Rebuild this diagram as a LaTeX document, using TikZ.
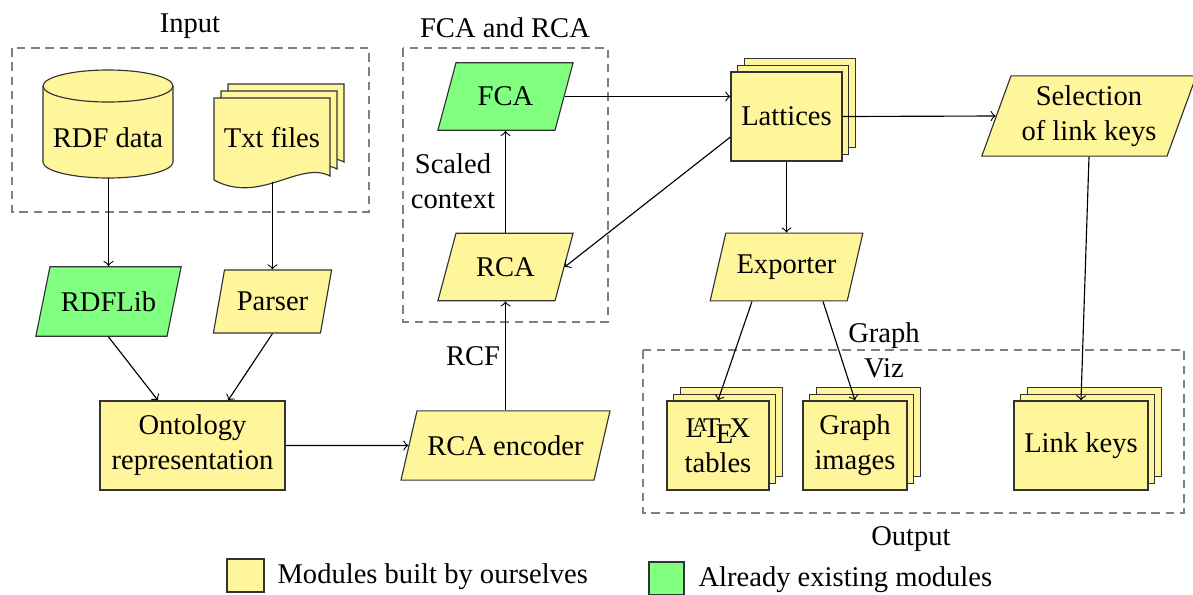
\documentclass[tikz,border=0pt]{standalone}
\usepackage{fontspec}
\setmainfont{Liberation Serif}
\usetikzlibrary{shapes.geometric,shadows}

\definecolor{ownyellow}{RGB}{255,245,155}
\definecolor{oldgreen}{RGB}{128,255,128}
\newdimen\upx \upx=0.35pt

\begin{document}
\fontsize{10pt}{12.3pt}\selectfont
\begin{tikzpicture}[x=0.35pt, y=-0.35pt, >=to, line width=0.4pt,
  box/.style={draw=gray, line width=0.6pt, dash pattern=on 3pt off 2pt},
  module/.style={draw=black!80, fill=ownyellow, align=center, inner sep=0pt},
  io/.style={module, trapezium, trapezium left angle=77, trapezium right angle=103},
  pages/.style={module, minimum height=89*\upx,
    copy shadow={shadow xshift=4.7pt, shadow yshift=4.7pt, fill=ownyellow, draw=black!80},
    copy shadow={shadow xshift=2.35pt, shadow yshift=2.35pt, fill=ownyellow, draw=black!80}}]

\useasboundingbox (0,0) rectangle (1193,594);

% Input
\draw[box] (12,48) rectangle (369,212);
\node[anchor=base] (inlabel) at (190,32) {Input};

\draw[draw=black!80, fill=ownyellow] (43,86) -- (43,162)
  arc[start angle=180, end angle=0, x radius=65, y radius=16] -- (173,86)
  arc[start angle=0, end angle=-180, x radius=65, y radius=16] -- cycle;
\draw[draw=black!80] (43,86) arc[start angle=180, end angle=0, x radius=65, y radius=16];
\node[anchor=base] (rdf) at (108,147) {RDF data};
\coordinate (rdfbot) at (108.5,178);

\foreach \d in {14,7,0}
  \draw[draw=black!80, fill=ownyellow] (214+\d,98-\d) -- (330+\d,98-\d) -- (330+\d,176-\d)
    .. controls (300+\d,160-\d) and (260+\d,205-\d) .. (214+\d,180-\d) -- cycle;
\node[anchor=base] (txt) at (272,147) {Txt files};
\coordinate (txtbot) at (272.5,182);

\node[io, fill=oldgreen, trapezium left angle=78.5, trapezium right angle=101.5,
  inner ysep=24.75*\upx] (rdflib) at (108.5,301.5) {\makebox[40.95pt]{RDFLib}};
\node[io, trapezium left angle=80, trapezium right angle=100,
  inner ysep=21.95*\upx] (parser) at (272.5,301.5) {\makebox[33.6pt]{Parser}};

\node[module, minimum width=185*\upx, minimum height=89*\upx] (onto) at (192.5,445.5) {Ontology\\representation};

\node[io, inner ysep=24.6*\upx] (enc) at (505.5,445.5) {\makebox[61.95pt]{RCA encoder}};
\node[anchor=base] (rcf) at (473,365) {RCF};

% FCA and RCA
\draw[box] (403,48) rectangle (608,322);
\node[anchor=base] (falabel) at (505,37) {FCA and RCA};
\node[io, fill=oldgreen, trapezium left angle=75, trapezium right angle=105,
  inner ysep=24.15*\upx] (fca) at (505.5,96.5) {\makebox[34.65pt]{FCA}};
\node[io, trapezium left angle=75, trapezium right angle=105,
  inner ysep=24.15*\upx] (rca) at (505.5,267) {\makebox[34.65pt]{RCA}};
\node[align=center] (scaled) at (453,181) {Scaled\\context};

\node[pages, minimum width=111*\upx] (lat) at (786.5,116.5) {Lattices};
\node[io, inner ysep=21.45*\upx] (exp) at (786.5,267) {\makebox[42.5pt]{Exporter}};
\node[io, trapezium left angle=70, trapezium right angle=110,
  inner ysep=9.6*\upx] (sel) at (1089,116) {\makebox[54.6pt]{Selection}\\of link keys};

% Output
\draw[box] (643,350) rectangle (1184,513);
\node[anchor=base] (outlabel) at (911,545) {Output};
\node[pages, minimum width=102*\upx] (tables) at (718,445.5) {\LaTeX\\tables};
\node[pages, minimum width=104*\upx] (images) at (855,445.5) {Graph\\images};
\node[pages, minimum width=134*\upx] (links) at (1081,445.5) {Link keys};
\node[align=center] (gviz) at (884,350) {Graph\\Viz};

% legend
\node[module, minimum width=37*\upx, minimum height=33*\upx] (ownkey) at (245.5,575.5) {};
\node[anchor=base west, inner sep=0pt] (owntext) at (277,583) {Modules built by ourselves};
\node[module, fill=oldgreen, minimum width=35*\upx, minimum height=33*\upx] (oldkey) at (666.5,578.5) {};
\node[anchor=base west, inner sep=0pt] (oldtext) at (698,586) {Already existing modules};

% arrows
\path (exp.center |- exp.south) coordinate (expbot);
\draw[->] (rdfbot) -- (rdfbot |- rdflib.north);
\draw[->] (txtbot) -- (txtbot |- parser.north);
\draw[->] (rdflib.center |- rdflib.south) -- ([xshift=-34.5*\upx]onto.north);
\draw[->] (parser.center |- parser.south) -- ([xshift=35.5*\upx]onto.north);
\draw[->] (onto.east) -- (enc.west);
\draw[->] (enc.center |- enc.north) -- (enc.center |- rca.south);
\draw[->] (rca.center |- rca.north) -- (rca.center |- fca.south);
\draw[->] (fca.east) -- (fca.east -| lat.west);
\draw[->] ([yshift=-20.5*\upx]lat.west) -- (rca.east);
\draw[->] (lat.east) -- (sel.west);
\draw[->] (lat.south) -- (lat.south |- exp.north);
\draw[->] ([xshift=-34.5*\upx]expbot) -- (tables.north);
\draw[->] ([xshift=36.5*\upx]expbot) -- (images.north);
\draw[->] (sel.center |- sel.south) -- (links.north);

\end{tikzpicture}
\end{document}
